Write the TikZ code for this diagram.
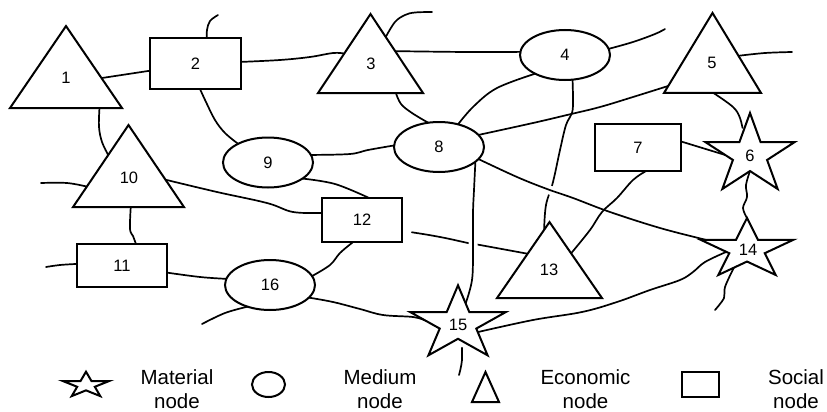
\documentclass[tikz,border=0pt]{standalone}
\usepackage{fontspec}
\setmainfont{Liberation Sans}
\usetikzlibrary{shapes.geometric}
\pgfdeclarelayer{bg}
\pgfsetlayers{bg,main}
\begin{document}
\begin{tikzpicture}[x=1pt,y=-1pt,
  shp/.style={draw, line width=2pt, fill=white, inner sep=0pt, outer sep=0pt},
  tri/.style={shp, regular polygon, regular polygon sides=3},
  stary/.style={shp, star, star points=5, star point ratio=2.618},
  box/.style={shp, rectangle, font=\fontsize{16.5}{19}\selectfont},
  ell/.style={shp, ellipse, minimum width=90pt, minimum height=50pt, font=\fontsize{16.5}{19}\selectfont},
  lab/.style={font=\fontsize{16.5}{19}\selectfont, inner sep=0pt},
  conn/.style={line width=1.7pt, line cap=round, line join=round},
  halo/.style={preaction={draw=white, line width=9pt}},
  legtext/.style={font=\fontsize{20.5}{24.3}\selectfont, align=center, inner sep=0pt, anchor=north},
  sm/.style={smooth, tension=0.6}
]
\useasboundingbox (0,0) rectangle (827,412);

% triangles (economic)
\node[tri, minimum size=109.3pt, xscale=1.183] (t1) at (66,80.7) {};
\node[tri, minimum size=105.3pt, xscale=1.151] (t3) at (370.5,66.7) {};
\node[tri, minimum size=106.7pt, xscale=1.05] (t5) at (712.5,66.3) {};
\node[tri, minimum size=109.3pt, xscale=1.172] (t10) at (128.5,179.7) {};
\node[tri, minimum size=101.3pt, xscale=1.196] (t13) at (549.5,272.7) {};
% rectangles (social)
\node[box, minimum width=91pt, minimum height=51pt] (n2) at (195.5,63.5) {2};
\node[box, minimum width=86pt, minimum height=47pt] (n7) at (638,147.5) {7};
\node[box, minimum width=90pt, minimum height=43pt] (n11) at (122,265.5) {11};
\node[box, minimum width=80pt, minimum height=44pt] (n12) at (362,220) {12};
% ellipses (medium)
\node[ell] (e4) at (565,55) {4};
\node[ell] (e8) at (439,147) {8};
\node[ell] (e9) at (268,162.5) {9};
\node[ell] (e16) at (270,285) {16};
% stars (material)
\node[stary, minimum size=84pt, xscale=1.12] (s6) at (750,155) {};
\node[stary, minimum size=63pt, xscale=1.55] (s14) at (747,249.5) {};
\node[stary, minimum size=77.4pt, xscale=1.3] (s15) at (458,324) {};

% labels of triangles and stars
\node[lab] (l1) at (66,78) {1};
\node[lab] (l3) at (371,64) {3};
\node[lab] (l5) at (712,63) {5};
\node[lab] (l10) at (129,178) {10};
\node[lab] (l13) at (549,270) {13};
\node[lab] (l6) at (750,156) {6};
\node[lab] (l14) at (748,250) {14};
\node[lab] (l15) at (458,325) {15};

% free ends
\coordinate (f1) at (218,15);
\coordinate (f2) at (432,12);
\coordinate (f3) at (41,183);
\coordinate (f4) at (665,29);
\coordinate (f5) at (792,52);
\coordinate (f6) at (715,310);
\coordinate (f7) at (202,324);
\coordinate (f8) at (46,267);
\coordinate (f9) at (459,375);

\begin{pgfonlayer}{bg}
\draw[conn] plot[sm] coordinates {(n2.66) (207,30) (210,21) (f1)};
\draw[conn] (t1.5) -- (n2.189);
\draw[conn] plot[sm] coordinates {(n2.2) (280,60) (310,57) (333,53) (t3.150)};
\draw[conn] plot[sm] coordinates {(t3.66) (395,22) (405,15) (415,12.5) (f2)};
\draw[conn] plot[sm] coordinates {(t3.36) (467,52) (e4.176)};
\draw[conn] plot[sm] coordinates {(t3.-50) (401,104) (412,113) (e8.114)};
\draw[conn] plot[sm] coordinates {(n2.-80) (206,102) (215,120) (225,133) (e9.148)};
\draw[conn] plot[sm] coordinates {(t1.-44) (99,127) (102,142) (t10.125)};
\draw[conn] plot[sm] coordinates {(e9.10) (350,154) (368,150) (e8.178)};
\draw[conn] plot[sm] coordinates {(f3) (67,183) (t10.191)};
\draw[conn] plot[sm] coordinates {(t10.0) (217,192) (267,203) (293,212) (n12.170)};
\draw[conn] plot[sm] coordinates {(e9.-25) (335,184) (n12.72)};
\draw[conn] plot[sm] coordinates {(e4.8) (633,42) (655,34) (f4)};
\draw[conn] plot[sm] coordinates {(e4.212) (497,88) (474,106) (e8.50)};
\draw[conn] plot[sm] coordinates {(e4.-73) (573,100) (572,113) (566,125) (560,150) (553,182) (546,205) (t13.96)};
\draw[conn] plot[sm] coordinates {(e8.17) (533,123) (567,115) (600,107) (633,97) (t5.205)};
\draw[conn] plot[sm] coordinates {(t5.23) (765,53) (f5)};
\draw[conn, shorten >=6pt] plot[sm] coordinates {(t5.-88) (733,107) (740,118) (s6.105)};
\draw[conn] (n7.8) -- (s6.180);
\draw[conn] plot[sm] coordinates {(s6.-90) (746,185) (747,197) (743,208) (s14.90)};
\draw[conn] plot[sm] coordinates {(s14.245) (725,287) (724,298) (f6)};
\draw[conn] plot[sm] coordinates {(s14.190) (705,262) (693,272) (680,280) (650,290) (617,302) (582,312) (533,320) (s15.-28)};
\draw[conn, shorten <=10pt] plot[sm] coordinates {(n12.-15) (440,237) (468,243) (480,245) (t13.134)};
\draw[conn] plot[sm] coordinates {(e16.-18) (333,302) (360,309) (383,315) (413,317) (s15.172)};
\draw[conn] plot[sm] coordinates {(e16.224) (225,313) (f7)};
\draw[conn] plot[sm] coordinates {(n12.-112) (340,253) (330,265) (e16.12)};
\draw[conn] plot[sm] coordinates {(n11.-9) (200,277) (e16.172)};
\draw[conn] plot[sm] coordinates {(f8) (60,265) (n11.178)};
\draw[conn] plot[sm] coordinates {(t10.-86) (130,229) (133,236) (n11.57)};
\draw[conn, shorten <=7pt] plot[sm] coordinates {(s15.-81) (462,360) (f9)};
% crossing lines (drawn over with a gap)
\draw[conn, halo] plot[sm] coordinates {(e8.-22) (474,190) (473,213) (473,250) (472,280) (s15.74)};
\draw[conn, halo] plot[sm] coordinates {(e8.-17) (517,177) (547,189) (573,198) (610,212) (660,228) (s14.160)};
\draw[conn] plot[sm] coordinates {(n7.-71) (633,180) (617,198) (602,212) (590,230) (t13.47)};
\end{pgfonlayer}

% legend
\node[stary, minimum size=27pt, xscale=1.8] (ls) at (86,385.2) {};
\node[legtext] (lt1) at (177,369.4) {Material\\node};
\node[shp, ellipse, minimum width=33pt, minimum height=25pt] (le) at (268.5,384.5) {};
\node[legtext] (lt2) at (380,369.4) {Medium\\node};
\node[tri, minimum size=40pt, xscale=0.78] (lr) at (485.5,392) {};
\node[legtext] (lt3) at (585.5,369.4) {Economic\\node};
\node[shp, rectangle, minimum width=37pt, minimum height=25pt] (lb) at (700.5,384.5) {};
\node[legtext] (lt4) at (796,369.4) {Social\\node};
\end{tikzpicture}
\end{document}
